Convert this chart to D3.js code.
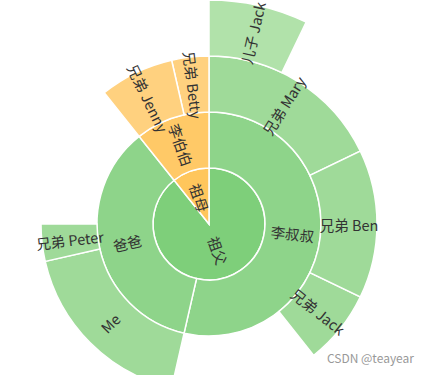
<!DOCTYPE html>
<html>
<head>
<meta charset="utf-8">
<script src="https://cdn.jsdelivr.net/npm/d3@7/dist/d3.min.js"></script>
<style>
  html, body { margin: 0; padding: 0; background: #fff; }
  svg { display: block; }
</style>
</head>
<body>
<svg id="chart" width="429" height="375"></svg>
<script>
// ---- data ----
const nodeIds     = ['祖父', '李叔叔', '兄弟 Jack', '兄弟 Mary', '儿子 Jack', '兄弟 Ben', '爸爸', 'Me', '兄弟 Peter', '祖母', '李伯伯', '兄弟 Betty', '兄弟 Jenny'];
const nodeParents = ['root', '祖父', '李叔叔', '李叔叔', '兄弟 Mary', '李叔叔', '祖父', '爸爸', '爸爸', 'root', '祖母', '李伯伯', '李伯伯'];
const nodeValues  = [null, 15, 2, 5, 2, 4, 10, 5, 1, null, null, 1, 2];

const greenShades  = ['#7ecf7a', '#8ed48a', '#9fda99', '#b1e2aa'];
const orangeShades = ['#ffc65c', '#ffc967', '#ffd17f'];
const branchShades = { '祖父': greenShades, '祖母': orangeShades };

// ---- layout ----
const W = 429, H = 375;
const cx = 209, cy = 224;
const ringW = 56;

const table = [{ id: 'root', parent: null, value: null }].concat(
  nodeIds.map((id, i) => ({ id, parent: nodeParents[i], value: nodeValues[i] }))
);
const root = d3.stratify().id(d => d.id).parentId(d => d.parent)(table);

// ECharts-like value: own value if given, else sum of children
function computeValue(n) {
  const childSum = (n.children || []).reduce((s, c) => s + computeValue(c), 0);
  n.val = (n.data.value != null) ? n.data.value : childSum;
  return n.val;
}
computeValue(root);

const total = root.val;
const angle = d3.scaleLinear().domain([0, total]).range([0, 2 * Math.PI]);
const radius = d3.scaleLinear().domain([0, 1]).range([0, ringW]);

// assign offsets, children sorted desc
function assign(n, start) {
  n.v0 = start;
  let off = start;
  const kids = (n.children || []).slice().sort((a, b) => b.val - a.val);
  kids.forEach(k => { assign(k, off); off += k.val; });
}
assign(root, 0);

const nodes = root.descendants().filter(n => n.depth > 0);

const arc = d3.arc()
  .startAngle(d => angle(d.v0))
  .endAngle(d => angle(d.v0 + d.val))
  .innerRadius(d => radius(d.depth - 1))
  .outerRadius(d => radius(d.depth));

const svg = d3.select('#chart');
const g = svg.append('g').attr('transform', `translate(${cx},${cy})`);

function colorOf(n) {
  const top = n.ancestors().find(a => a.depth === 1);
  const shades = branchShades[top.id];
  return shades[Math.min(n.depth - 1, shades.length - 1)];
}

g.selectAll('path.seg')
  .data(nodes)
  .join('path')
  .attr('class', 'seg')
  .attr('d', arc)
  .attr('fill', colorOf)
  .attr('stroke', '#fff')
  .attr('stroke-width', 1.5);

g.selectAll('text.lbl')
  .data(nodes)
  .join('text')
  .attr('class', 'lbl')
  .attr('transform', d => {
    const a = (angle(d.v0) + angle(d.v0 + d.val)) / 2;
    const r = (radius(d.depth - 1) + radius(d.depth)) / 2;
    const x = r * Math.sin(a), y = -r * Math.cos(a);
    let deg = a * 180 / Math.PI;
    let rot = deg < 180 ? deg - 90 : deg - 270;
    return `translate(${x},${y}) rotate(${rot})`;
  })
  .attr('text-anchor', 'middle')
  .attr('dominant-baseline', 'central')
  .attr('font-family', '"Noto Sans CJK SC", "Noto Sans", sans-serif')
  .attr('font-size', 14.5)
  .attr('fill', '#333')
  .text(d => d.id);

svg.append('text')
  .attr('x', 414).attr('y', 363)
  .attr('text-anchor', 'end')
  .attr('font-family', '"Noto Sans CJK SC", "Noto Sans", sans-serif')
  .attr('font-size', 12)
  .attr('fill', '#999')
  .text('CSDN @teayear');
</script>
</body>
</html>
